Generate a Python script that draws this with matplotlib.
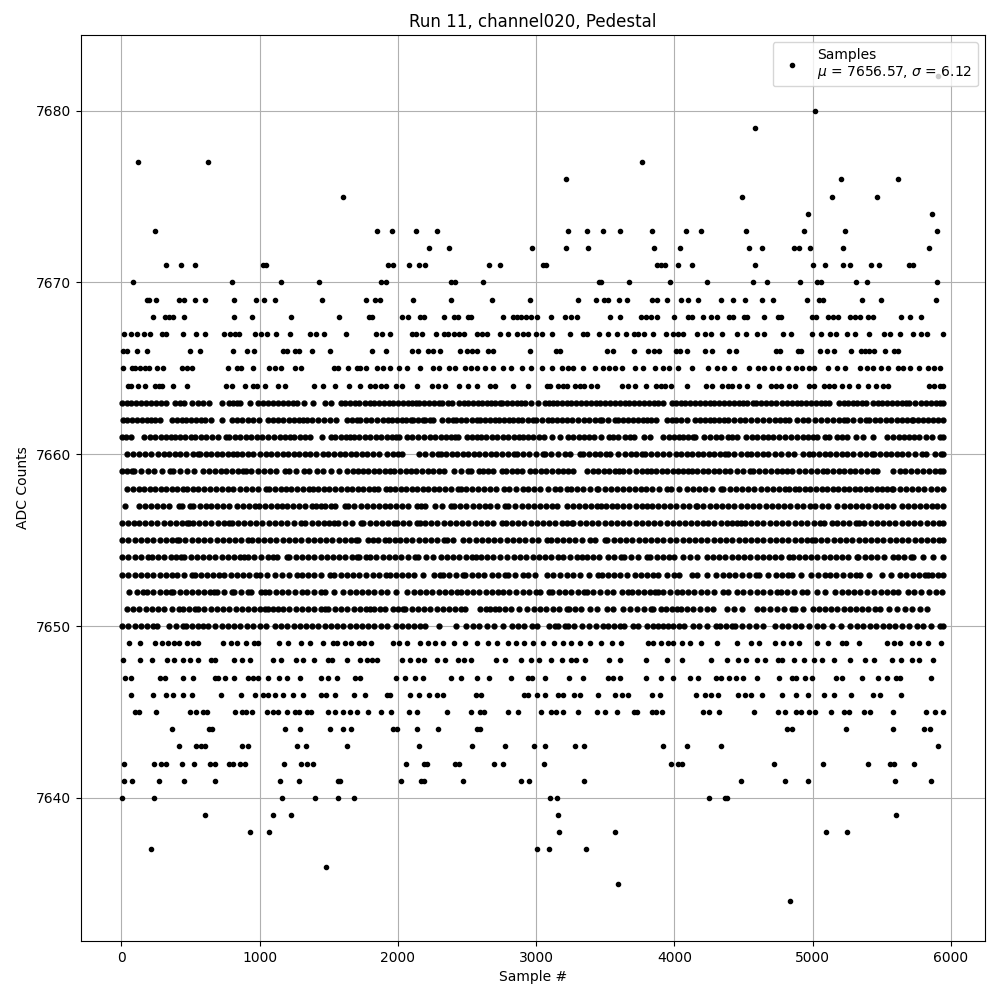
import matplotlib
matplotlib.use('Agg')
import matplotlib.pyplot as plt

# sample numbers, one list for each ADC level
adc_7682 = [5908]
adc_7680 = [5020]
adc_7679 = [4586]
adc_7677 = [122, 628, 3769]
adc_7676 = [3219, 5209, 5621]
adc_7675 = [1605, 4491, 5143, 5469]
adc_7674 = [4970, 5867]
adc_7673 = [245, 1851, 1960, 2133, 2285, 3233, 3371, 3487, 3610, 3841, 4087, 4196, 4521, 4941, 5237, 5903]
adc_7672 = [2228, 2372, 2973, 3219, 3378, 3856, 4044, 4543, 4637, 4868, 4905, 4980, 5223, 5845]
adc_7671 = [325, 433, 534, 1027, 1046, 1931, 1967, 2083, 2155, 2194, 2662, 2741, 3052, 3071, 3877, 3906, 3935, 4029,
            4130, 4586, 5006, 5093, 5223, 5274, 5426, 5484, 5700, 5730]
adc_7670 = [86, 802, 1156, 1431, 1880, 1916, 2384, 2415, 2618, 3458, 3472, 3675, 3971, 4239, 4572, 4673, 4912, 5035,
            5064, 5317, 5397, 5903]
adc_7669 = [187, 201, 252, 419, 455, 534, 607, 817, 976, 1034, 1113, 1453, 1772, 1837, 1873, 2112, 2387, 2683, 2958,
            3305, 3436, 3494, 3522, 3603, 3660, 3841, 3877, 3949, 4051, 4102, 4174, 4340, 4427, 4514, 4637, 4716, 4963,
            5050, 5079, 5361, 5498, 5896]
adc_7668 = [230, 317, 346, 375, 455, 817, 947, 1229, 1576, 1794, 1815, 2033, 2076, 2163, 2192, 2336, 2408, 2437, 2509,
            2531, 2763, 2835, 2864, 2893, 2927, 2966, 3009, 3110, 3207, 3250, 3293, 3537, 3610, 3762, 3798, 3834, 3877,
            4000, 4102, 4130, 4210, 4268, 4311, 4398, 4427, 4507, 4529, 4652, 4753, 4775, 4999, 5028, 5115, 5151, 5187,
            5274, 5310, 5346, 5404, 5440, 5642, 5708, 5788]
adc_7667 = [21, 71, 115, 165, 209, 295, 325, 448, 541, 607, 744, 788, 824, 853, 969, 1012, 1056, 1120, 1222, 1366, 1410,
            1468, 1627, 1844, 1888, 1946, 2105, 2134, 2177, 2278, 2336, 2365, 2408, 2445, 2481, 2575, 2611, 2647, 2739,
            2799, 2864, 2908, 2944, 3000, 3040, 3118, 3248, 3342, 3371, 3458, 3522, 3588, 3648, 3711, 3740, 3784, 3849,
            3940, 3993, 4029, 4065, 4166, 4224, 4268, 4347, 4456, 4521, 4600, 4652, 4789, 4847, 4999, 5064, 5129, 5173,
            5253, 5310, 5412, 5520, 5564, 5636, 5730, 5788, 5826, 5942]
adc_7666 = [13, 42, 115, 187, 498, 571, 809, 911, 961, 1171, 1201, 1258, 1287, 1381, 1511, 1815, 1916, 2105, 2148, 2220,
            2257, 2307, 2452, 2502, 2534, 2570, 2654, 2691, 2958, 3144, 3173, 3515, 3559, 3711, 3812, 3856, 3892, 4015,
            4044, 4094, 4224, 4275, 4398, 4449, 4738, 4767, 4897, 4919, 5057, 5107, 5158, 5282, 5354, 5383, 5412, 5448,
            5528, 5592, 5621]
adc_7665 = [13, 78, 100, 136, 172, 201, 259, 303, 440, 477, 513, 768, 838, 867, 954, 1070, 1113, 1156, 1258, 1301, 1540,
            1569, 1641, 1707, 1728, 1772, 1851, 1895, 1946, 2011, 2068, 2163, 2257, 2300, 2372, 2415, 2488, 2527, 2575,
            2628, 2691, 2763, 2821, 2901, 2966, 3043, 3118, 3190, 3233, 3269, 3342, 3429, 3487, 3530, 3574, 3624, 3718,
            3776, 3863, 3921, 3964, 4029, 4130, 4246, 4311, 4362, 4434, 4543, 4608, 4652, 4710, 4760, 4825, 4879, 4927,
            4977, 5014, 5115, 5180, 5237, 5346, 5397, 5440, 5498, 5549, 5621, 5657, 5706, 5773, 5838, 5881, 5925]
adc_7664 = [49, 71, 122, 172, 245, 274, 295, 375, 477, 758, 802, 896, 954, 983, 1041, 1135, 1185, 1395, 1460, 1547, 1648,
            1728, 1801, 1837, 1880, 1916, 1989, 2030, 2141, 2249, 2293, 2341, 2445, 2509, 2575, 2669, 2705, 2835, 2944,
            3077, 3101, 3159, 3197, 3226, 3282, 3318, 3349, 3400, 3443, 3624, 3667, 3718, 3798, 3870, 3901, 3935, 3978,
            4092, 4232, 4275, 4347, 4391, 4417, 4468, 4529, 4615, 4702, 4738, 4775, 4832, 4876, 4977, 5014, 5086, 5122,
            5158, 5216, 5267, 5332, 5404, 5462, 5513, 5549, 5845, 5881, 5925, 5942]
adc_7663 = [5, 38, 72, 108, 140, 178, 212, 248, 285, 322, 390, 420, 452, 510, 552, 592, 635, 729, 775, 805, 835, 860, 927,
            990, 1025, 1058, 1095, 1130, 1165, 1202, 1238, 1270, 1318, 1383, 1475, 1518, 1585, 1620, 1652, 1690, 1722,
            1760, 1795, 1830, 1862, 1900, 1935, 1965, 2000, 2035, 2070, 2100, 2131, 2155, 2190, 2225, 2262, 2300, 2322,
            2360, 2395, 2440, 2478, 2510, 2545, 2580, 2612, 2647, 2670, 2705, 2739, 2755, 2790, 2825, 2860, 2890, 2920,
            2960, 3016, 3062, 3095, 3125, 3150, 3185, 3220, 3255, 3290, 3325, 3360, 3395, 3430, 3465, 3500, 3535, 3570,
            3605, 3640, 3675, 3710, 3745, 3780, 3815, 3850, 3885, 3921, 3985, 4015, 4045, 4080, 4115, 4150, 4185, 4220,
            4255, 4290, 4325, 4360, 4395, 4430, 4465, 4499, 4523, 4567, 4590, 4625, 4660, 4700, 4736, 4780, 4815, 4850,
            4885, 4920, 4955, 4990, 5025, 5060, 5090, 5119, 5190, 5225, 5260, 5295, 5325, 5356, 5384, 5438, 5472, 5505,
            5540, 5575, 5610, 5645, 5675, 5700, 5744, 5785, 5820, 5855, 5890, 5920, 5945]
adc_7662 = [8, 42, 78, 112, 148, 182, 215, 242, 281, 367, 400, 435, 470, 505, 540, 572, 604, 647, 724, 802, 838, 875, 915,
            954, 997, 1062, 1098, 1132, 1166, 1212, 1248, 1282, 1315, 1344, 1378, 1424, 1465, 1508, 1549, 1629, 1665, 1701,
            1728, 1766, 1808, 1851, 1889, 1930, 1960, 1995, 2030, 2062, 2093, 2112, 2145, 2179, 2199, 2230, 2257, 2317,
            2360, 2401, 2418, 2455, 2495, 2535, 2575, 2594, 2630, 2665, 2700, 2735, 2770, 2805, 2835, 2867, 2896, 2940,
            2980, 2997, 3040, 3089, 3113, 3150, 3185, 3222, 3258, 3306, 3345, 3385, 3425, 3463, 3475, 3522, 3571, 3595,
            3630, 3665, 3700, 3735, 3770, 3800, 3829, 3868, 3945, 3980, 4015, 4050, 4089, 4150, 4185, 4220, 4255, 4290,
            4325, 4360, 4391, 4434, 4475, 4515, 4555, 4596, 4644, 4685, 4725, 4765, 4801, 4832, 4885, 4928, 4970, 5018,
            5062, 5107, 5146, 5190, 5228, 5252, 5295, 5340, 5384, 5411, 5450, 5490, 5530, 5570, 5610, 5650, 5685, 5717,
            5729, 5765, 5800, 5835, 5870, 5905, 5942]
adc_7661 = [5, 35, 66, 165, 206, 245, 285, 320, 355, 387, 425, 460, 500, 535, 575, 615, 652, 700, 756, 780, 820, 860, 900,
            940, 980, 1014, 1062, 1105, 1145, 1185, 1219, 1250, 1290, 1330, 1364, 1448, 1516, 1544, 1585, 1625, 1653, 1682,
            1720, 1760, 1800, 1840, 1880, 1920, 1955, 1986, 2011, 2068, 2100, 2148, 2190, 2230, 2270, 2310, 2350, 2385,
            2413, 2433, 2498, 2534, 2570, 2599, 2640, 2680, 2720, 2760, 2800, 2840, 2875, 2908, 2944, 2975, 3018, 3060,
            3118, 3176, 3229, 3270, 3310, 3350, 3385, 3419, 3467, 3530, 3554, 3595, 3640, 3680, 3711, 3781, 3824, 3921,
            3960, 4000, 4035, 4060, 4100, 4133, 4150, 4217, 4258, 4300, 4340, 4385, 4420, 4456, 4516, 4560, 4600, 4644,
            4680, 4712, 4755, 4800, 4845, 4885, 4929, 4968, 5006, 5035, 5090, 5122, 5179, 5215, 5252, 5312, 5368, 5435,
            5536, 5580, 5625, 5665, 5700, 5737, 5773, 5819, 5862, 5925, 5945]
adc_7660 = [37, 80, 125, 170, 211, 266, 305, 345, 385, 425, 470, 515, 556, 568, 610, 650, 690, 730, 770, 809, 833, 869, 912,
            954, 1002, 1045, 1085, 1125, 1165, 1205, 1245, 1285, 1325, 1365, 1410, 1460, 1496, 1540, 1580, 1620, 1660, 1700,
            1740, 1780, 1820, 1860, 1918, 1967, 2000, 2027, 2155, 2196, 2245, 2293, 2310, 2350, 2390, 2430, 2470, 2510,
            2550, 2590, 2630, 2670, 2710, 2750, 2795, 2840, 2860, 2905, 2950, 3000, 3048, 3065, 3110, 3160, 3209, 3245,
            3318, 3337, 3380, 3425, 3465, 3506, 3535, 3590, 3643, 3684, 3725, 3764, 3788, 3830, 3875, 3920, 3965, 4012,
            4050, 4090, 4130, 4170, 4210, 4250, 4290, 4330, 4367, 4391, 4435, 4480, 4523, 4555, 4600, 4644, 4680, 4725,
            4770, 4820, 4866, 4933, 4977, 5006, 5049, 5090, 5130, 5170, 5210, 5250, 5295, 5340, 5385, 5428, 5447, 5490,
            5530, 5570, 5610, 5650, 5690, 5745, 5790, 5823, 5886, 5930, 5945]
adc_7659 = [5, 40, 73, 92, 140, 189, 237, 295, 351, 375, 425, 475, 524, 592, 635, 680, 720, 756, 797, 840, 881, 898, 940,
            985, 1030, 1075, 1120, 1183, 1214, 1265, 1320, 1359, 1417, 1460, 1513, 1576, 1634, 1675, 1713, 1745, 1785, 1825,
            1865, 1905, 1940, 1975, 2015, 2055, 2095, 2131, 2172, 2215, 2255, 2295, 2336, 2408, 2455, 2505, 2529, 2589,
            2614, 2655, 2691, 2751, 2782, 2825, 2864, 2896, 2956, 2992, 3033, 3075, 3115, 3155, 3195, 3230, 3265, 3371,
            3410, 3450, 3490, 3530, 3570, 3602, 3631, 3675, 3720, 3765, 3805, 3829, 3870, 3910, 3950, 3990, 4030, 4060,
            4101, 4125, 4165, 4205, 4245, 4285, 4325, 4365, 4405, 4450, 4500, 4547, 4572, 4615, 4655, 4700, 4740, 4777,
            4813, 4855, 4900, 4945, 4990, 5035, 5078, 5107, 5150, 5190, 5230, 5270, 5310, 5350, 5395, 5435, 5469, 5585,
            5630, 5670, 5715, 5755, 5800, 5840, 5885, 5925, 5945]
adc_7658 = [42, 85, 125, 165, 205, 245, 285, 325, 365, 405, 447, 471, 515, 555, 600, 640, 685, 725, 770, 809, 857, 900, 945,
            990, 1045, 1069, 1110, 1155, 1190, 1224, 1267, 1315, 1359, 1383, 1425, 1465, 1505, 1545, 1590, 1630, 1670, 1710,
            1750, 1790, 1830, 1858, 1911, 1940, 1980, 2020, 2060, 2100, 2140, 2180, 2220, 2260, 2300, 2340, 2385, 2437,
            2454, 2495, 2535, 2580, 2625, 2665, 2710, 2768, 2806, 2855, 2903, 2944, 2987, 3030, 3085, 3137, 3173, 3221,
            3250, 3295, 3340, 3390, 3438, 3450, 3495, 3540, 3585, 3630, 3675, 3716, 3757, 3795, 3840, 3890, 3950, 3976,
            4037, 4094, 4135, 4180, 4225, 4275, 4335, 4355, 4400, 4445, 4490, 4535, 4580, 4625, 4670, 4715, 4760, 4800,
            4832, 4873, 4904, 4945, 4985, 5025, 5065, 5105, 5145, 5185, 5225, 5265, 5305, 5345, 5385, 5425, 5465, 5505,
            5540, 5573, 5585, 5630, 5675, 5720, 5765, 5810, 5855, 5900, 5945]
adc_7657 = [27, 129, 170, 215, 260, 302, 346, 418, 440, 495, 519, 568, 609, 650, 690, 735, 775, 833, 880, 925, 966, 997,
            1040, 1085, 1125, 1159, 1195, 1240, 1285, 1330, 1375, 1410, 1441, 1475, 1513, 1544, 1617, 1641, 1685, 1730,
            1775, 1820, 1865, 1910, 1940, 1985, 2030, 2075, 2136, 2165, 2196, 2269, 2319, 2382, 2406, 2450, 2495, 2540,
            2585, 2630, 2667, 2720, 2775, 2799, 2847, 2896, 2940, 2985, 3030, 3075, 3115, 3149, 3221, 3265, 3310, 3355,
            3400, 3438, 3467, 3506, 3549, 3588, 3630, 3675, 3720, 3765, 3800, 3836, 3880, 3925, 3970, 4015, 4060, 4105,
            4157, 4166, 4210, 4255, 4300, 4345, 4390, 4435, 4480, 4525, 4570, 4615, 4660, 4705, 4750, 4795, 4840, 4885,
            4930, 4982, 5018, 5065, 5109, 5179, 5225, 5270, 5315, 5360, 5405, 5450, 5495, 5540, 5585, 5645, 5688, 5735,
            5775, 5820, 5862, 5900, 5945]
adc_7656 = [5, 45, 90, 129, 170, 215, 260, 305, 350, 395, 440, 471, 490, 519, 560, 605, 650, 695, 740, 780, 797, 840, 885,
            930, 975, 1020, 1065, 1110, 1155, 1200, 1245, 1296, 1330, 1375, 1420, 1465, 1505, 1540, 1569, 1615, 1665, 1730,
            1750, 1795, 1840, 1885, 1930, 1972, 1991, 2035, 2080, 2141, 2160, 2196, 2240, 2285, 2330, 2375, 2420, 2465,
            2510, 2555, 2600, 2645, 2690, 2751, 2780, 2825, 2870, 2915, 2960, 3005, 3050, 3095, 3140, 3185, 3225, 3258,
            3270, 3315, 3360, 3405, 3450, 3495, 3540, 3585, 3630, 3675, 3720, 3765, 3810, 3855, 3900, 3945, 3990, 4035,
            4075, 4120, 4165, 4205, 4246, 4290, 4335, 4380, 4420, 4456, 4485, 4511, 4555, 4600, 4645, 4690, 4735, 4780,
            4825, 4870, 4915, 4960, 5010, 5054, 5083, 5138, 5179, 5218, 5265, 5314, 5339, 5375, 5420, 5465, 5510, 5555,
            5600, 5645, 5690, 5735, 5780, 5825, 5870, 5915, 5945]
adc_7655 = [5, 50, 95, 140, 185, 230, 275, 320, 365, 404, 418, 463, 508, 553, 598, 643, 688, 733, 778, 823, 868, 917, 941,
            986, 1031, 1076, 1121, 1166, 1211, 1256, 1301, 1346, 1391, 1436, 1481, 1526, 1571, 1616, 1661, 1696, 1713, 1786,
            1817, 1858, 1906, 1938, 1979, 2015, 2060, 2105, 2150, 2195, 2240, 2285, 2330, 2358, 2401, 2469, 2517, 2562,
            2607, 2652, 2697, 2742, 2787, 2832, 2877, 2922, 2967, 3012, 3077, 3106, 3150, 3195, 3240, 3285, 3330, 3390,
            3426, 3499, 3516, 3561, 3606, 3651, 3696, 3741, 3786, 3831, 3876, 3921, 3966, 4011, 4060, 4105, 4150, 4195,
            4240, 4285, 4330, 4375, 4420, 4465, 4510, 4555, 4600, 4645, 4690, 4735, 4780, 4825, 4870, 4915, 4960, 4994,
            5018, 5063, 5108, 5153, 5198, 5243, 5288, 5333, 5378, 5423, 5468, 5513, 5558, 5603, 5648, 5693, 5738, 5783,
            5828, 5873, 5918, 5945]
adc_7654 = [5, 50, 95, 140, 194, 218, 265, 310, 355, 395, 430, 454, 500, 545, 590, 635, 680, 725, 770, 815, 860, 886, 912,
            960, 1010, 1062, 1093, 1127, 1195, 1214, 1260, 1305, 1350, 1395, 1440, 1485, 1530, 1575, 1620, 1665, 1701, 1721,
            1769, 1798, 1845, 1890, 1935, 1980, 2025, 2070, 2124, 2148, 2200, 2252, 2310, 2355, 2400, 2445, 2490, 2534,
            2565, 2599, 2645, 2690, 2740, 2787, 2840, 2885, 2930, 2975, 3020, 3065, 3110, 3161, 3192, 3245, 3294, 3330,
            3366, 3410, 3455, 3523, 3564, 3612, 3639, 3685, 3735, 3800, 3824, 3875, 3921, 3964, 4000, 4065, 4115, 4166,
            4234, 4282, 4325, 4370, 4415, 4460, 4505, 4550, 4595, 4640, 4685, 4730, 4775, 4832, 4856, 4900, 4945, 4990,
            5035, 5080, 5125, 5170, 5215, 5260, 5319, 5331, 5380, 5425, 5470, 5515, 5580, 5621, 5665, 5710, 5729, 5797,
            5874, 5945]
adc_7653 = [5, 50, 95, 140, 185, 230, 275, 320, 362, 404, 455, 512, 531, 575, 620, 665, 707, 744, 790, 835, 880, 925, 970,
            1002, 1050, 1110, 1159, 1210, 1267, 1303, 1350, 1395, 1445, 1508, 1540, 1585, 1630, 1675, 1720, 1770, 1822, 1860,
            1911, 1940, 1985, 2030, 2075, 2120, 2179, 2264, 2305, 2324, 2370, 2420, 2469, 2486, 2535, 2580, 2626, 2679,
            2725, 2775, 2799, 2850, 2908, 2944, 2992, 3077, 3125, 3173, 3220, 3270, 3318, 3385, 3450, 3475, 3520, 3565,
            3610, 3660, 3716, 3757, 3800, 3848, 3880, 3945, 3995, 4035, 4125, 4166, 4234, 4302, 4350, 4395, 4440, 4490,
            4540, 4591, 4615, 4680, 4736, 4780, 4825, 4849, 4914, 4989, 5042, 5090, 5126, 5170, 5220, 5270, 5314, 5343,
            5411, 5500, 5568, 5633, 5680, 5725, 5770, 5815, 5838, 5862, 5910, 5942]
adc_7652 = [56, 114, 158, 186, 230, 275, 320, 355, 375, 420, 465, 510, 555, 600, 640, 669, 688, 740, 797, 816, 865, 917, 934,
            1007, 1038, 1069, 1115, 1160, 1205, 1255, 1303, 1344, 1395, 1441, 1472, 1537, 1605, 1650, 1695, 1740, 1785, 1830,
            1875, 1920, 1986, 2068, 2115, 2160, 2205, 2250, 2295, 2340, 2385, 2425, 2454, 2498, 2545, 2590, 2635, 2680,
            2725, 2763, 2806, 2855, 2908, 2950, 2997, 3028, 3096, 3118, 3165, 3210, 3255, 3300, 3347, 3366, 3415, 3465,
            3515, 3559, 3619, 3668, 3697, 3740, 3781, 3824, 3861, 3885, 3921, 3969, 4017, 4053, 4100, 4145, 4190, 4240,
            4290, 4355, 4391, 4451, 4500, 4545, 4595, 4645, 4695, 4740, 4769, 4815, 4865, 4921, 4958, 5035, 5090, 5163,
            5210, 5255, 5300, 5345, 5395, 5445, 5495, 5540, 5585, 5621, 5688, 5735, 5785, 5840, 5893, 5934]
adc_7651 = [37, 85, 130, 175, 220, 265, 310, 365, 418, 442, 485, 531, 556, 600, 645, 690, 735, 780, 825, 870, 915, 960, 1005,
            1038, 1057, 1098, 1134, 1171, 1215, 1260, 1305, 1350, 1395, 1440, 1472, 1496, 1545, 1590, 1635, 1680, 1725, 1770,
            1798, 1827, 1870, 1906, 1967, 2003, 2035, 2052, 2100, 2145, 2190, 2235, 2280, 2325, 2370, 2415, 2460, 2486,
            2594, 2638, 2667, 2703, 2734, 2775, 2816, 2876, 2937, 2985, 3030, 3075, 3120, 3165, 3221, 3241, 3285, 3325,
            3390, 3440, 3511, 3559, 3631, 3680, 3730, 3780, 3829, 3848, 3902, 3940, 3981, 4017, 4050, 4094, 4137, 4185,
            4235, 4282, 4379, 4430, 4487, 4596, 4644, 4690, 4740, 4795, 4849, 4873, 4933, 5001, 5045, 5090, 5135, 5180,
            5225, 5270, 5315, 5360, 5405, 5450, 5488, 5556, 5610, 5669, 5717, 5778, 5831]
adc_7650 = [5, 50, 95, 140, 185, 225, 259, 346, 394, 442, 466, 510, 550, 592, 623, 676, 725, 773, 816, 860, 905, 950, 1000,
            1043, 1110, 1155, 1200, 1245, 1290, 1335, 1380, 1425, 1470, 1515, 1560, 1605, 1650, 1695, 1740, 1785, 1830, 1875,
            1920, 1985, 2030, 2075, 2120, 2160, 2196, 2300, 2421, 2493, 2540, 2590, 2645, 2696, 2758, 2823, 2872, 2913,
            2968, 3009, 3096, 3137, 3161, 3209, 3233, 3277, 3330, 3380, 3435, 3487, 3523, 3565, 3607, 3636, 3704, 3740,
            3800, 3848, 3885, 3921, 3957, 3993, 4035, 4070, 4133, 4181, 4240, 4302, 4330, 4375, 4415, 4439, 4490, 4540,
            4590, 4644, 4728, 4777, 4825, 4870, 4920, 4975, 5030, 5078, 5140, 5204, 5271, 5320, 5365, 5415, 5460, 5510,
            5555, 5600, 5650, 5700, 5758, 5802, 5860, 5922, 5945]
adc_7649 = [54, 136, 245, 295, 339, 383, 419, 477, 520, 556, 737, 795, 838, 903, 961, 990, 1142, 1207, 1301, 1366, 1460,
            1533, 1562, 1620, 1663, 1721, 1757, 1807, 1961, 2011, 2068, 2163, 2220, 2271, 2329, 2408, 2488, 2575, 2654,
            2720, 2799, 2857, 2915, 2980, 3053, 3130, 3197, 3255, 3315, 3392, 3472, 3549, 3617, 3812, 3849, 3904, 3955,
            3993, 4053, 4114, 4196, 4311, 4456, 4558, 4611, 4731, 4789, 4847, 4905, 5035, 5115, 5211, 5245, 5339, 5542,
            5592, 5636, 5723, 5773, 5838, 5932]
adc_7648 = [13, 136, 223, 332, 383, 448, 498, 556, 650, 679, 817, 875, 932, 1099, 1156, 1265, 1316, 1395, 1497, 1526, 1634,
            1728, 1779, 1815, 1851, 2033, 2090, 2148, 2192, 2285, 2343, 2437, 2481, 2531, 2712, 2777, 2893, 2966, 3023,
            3110, 3190, 3255, 3291, 3356, 3530, 3610, 3798, 3949, 4058, 4268, 4384, 4463, 4521, 4600, 4659, 4753, 4782,
            4869, 4941, 5014, 5071, 5158, 5274, 5383, 5448, 5578, 5642, 5723, 5773, 5874]
adc_7647 = [28, 71, 281, 317, 448, 520, 679, 701, 751, 817, 918, 954, 990, 1063, 1142, 1195, 1294, 1446, 1497, 1562, 1692,
            1728, 1989, 2054, 2126, 2184, 2387, 2459, 2575, 2662, 2821, 2944, 2973, 3067, 3240, 3342, 3522, 3559, 3610,
            3798, 3906, 3993, 4116, 4174, 4304, 4340, 4398, 4449, 4500, 4600, 4760, 4854, 4883, 4948, 4999, 5173, 5216,
            5361, 5476, 5542, 5607, 5636, 5860]
adc_7646 = [71, 230, 325, 375, 448, 513, 723, 867, 969, 1027, 1063, 1113, 1171, 1241, 1316, 1446, 1480, 1547, 1685, 1765,
            1924, 1946, 2090, 2155, 2228, 2285, 2329, 2567, 2604, 2915, 2944, 3004, 3067, 3161, 3197, 3276, 3320, 3450,
            3574, 3624, 3667, 3841, 3899, 4159, 4224, 4268, 4319, 4463, 4514, 4558, 4637, 4782, 4883, 4970, 5086, 5158,
            5282, 5434, 5491, 5642]
adc_7645 = [100, 129, 252, 498, 541, 592, 621, 824, 875, 903, 947, 1050, 1099, 1135, 1200, 1258, 1287, 1344, 1373, 1497,
            1547, 1605, 1656, 1707, 1786, 1880, 1953, 2083, 2141, 2358, 2531, 2597, 2626, 2799, 2871, 3038, 3110, 3146,
            3197, 3305, 3443, 3501, 3588, 3711, 3732, 3841, 3870, 3914, 4210, 4254, 4326, 4579, 4753, 4803, 4883, 4919,
            4977, 5020, 5136, 5230, 5267, 5375, 5418, 5585, 5824, 5889, 5942]
adc_7644 = [368, 636, 658, 1185, 1294, 1511, 1605, 1663, 1967, 1996, 2141, 2293, 2575, 2597, 4817, 4854, 5245, 5585, 5809,
            5852]
adc_7643 = [419, 541, 578, 607, 872, 918, 1272, 1337, 1634, 2155, 2539, 2777, 2987, 3067, 3284, 3349, 3921, 4094, 4340, 5910]
adc_7642 = [21, 238, 288, 325, 440, 527, 643, 679, 780, 809, 860, 896, 1178, 1301, 1344, 1388, 2061, 2192, 2213, 2415, 2445,
            2698, 2763, 3060, 3978, 4029, 4058, 4724, 5078, 5404, 5564, 5592, 5737]
adc_7641 = [21, 78, 274, 455, 679, 1149, 1287, 1569, 1584, 2025, 2170, 2192, 2474, 2893, 2951, 3349, 4485, 4803, 4970, 5599,
            5860]
adc_7640 = [6, 238, 1164, 1403, 1569, 1685, 3103, 3153, 4254, 4369, 4384]
adc_7639 = [607, 1099, 1229, 3161, 5607]
adc_7638 = [932, 1070, 3168, 3574, 5100, 5253]
adc_7637 = [216, 3009, 3096, 3363]
adc_7636 = [1482]
adc_7635 = [3595]
adc_7634 = [4839]

levels = [7682, 7680, 7679, 7677, 7676, 7675, 7674, 7673, 7672, 7671, 7670, 7669, 7668, 7667, 7666, 7665, 7664, 7663,
          7662, 7661, 7660, 7659, 7658, 7657, 7656, 7655, 7654, 7653, 7652, 7651, 7650, 7649, 7648, 7647, 7646, 7645,
          7644, 7643, 7642, 7641, 7640, 7639, 7638, 7637, 7636, 7635, 7634]
rows = [adc_7682, adc_7680, adc_7679, adc_7677, adc_7676, adc_7675, adc_7674, adc_7673, adc_7672, adc_7671, adc_7670,
        adc_7669, adc_7668, adc_7667, adc_7666, adc_7665, adc_7664, adc_7663, adc_7662, adc_7661, adc_7660, adc_7659,
        adc_7658, adc_7657, adc_7656, adc_7655, adc_7654, adc_7653, adc_7652, adc_7651, adc_7650, adc_7649, adc_7648,
        adc_7647, adc_7646, adc_7645, adc_7644, adc_7643, adc_7642, adc_7641, adc_7640, adc_7639, adc_7638, adc_7637,
        adc_7636, adc_7635, adc_7634]

# the middle rows are read as fewer dots than the original has, so draw them a bit bigger to close the gaps
sparse_x, sparse_y, dense_x, dense_y = [], [], [], []
for level, row in zip(levels, rows):
    if 7650 <= level <= 7663:
        dense_x.extend(row)
        dense_y.extend([level] * len(row))
    else:
        sparse_x.extend(row)
        sparse_y.extend([level] * len(row))

fig, ax = plt.subplots(figsize=(10, 10))
ax.plot(sparse_x, sparse_y, 'k.', label='Samples\n$\\mu$ = 7656.57, $\\sigma$ = 6.12')
ax.plot(dense_x, dense_y, 'k.', markersize=7)
ax.set_xlim(-293, 6248)
ax.set_ylim(7631.67, 7684.4)
ax.set_xlabel('Sample #')
ax.set_ylabel('ADC Counts')
ax.set_title('Run 11, channel020, Pedestal')
ax.ticklabel_format(useOffset=False, style='plain', axis='y')
ax.grid(True)
ax.legend(loc='upper right')
fig.subplots_adjust(left=0.081, right=0.985, top=0.965, bottom=0.059)
plt.savefig('out.png', dpi=100)
